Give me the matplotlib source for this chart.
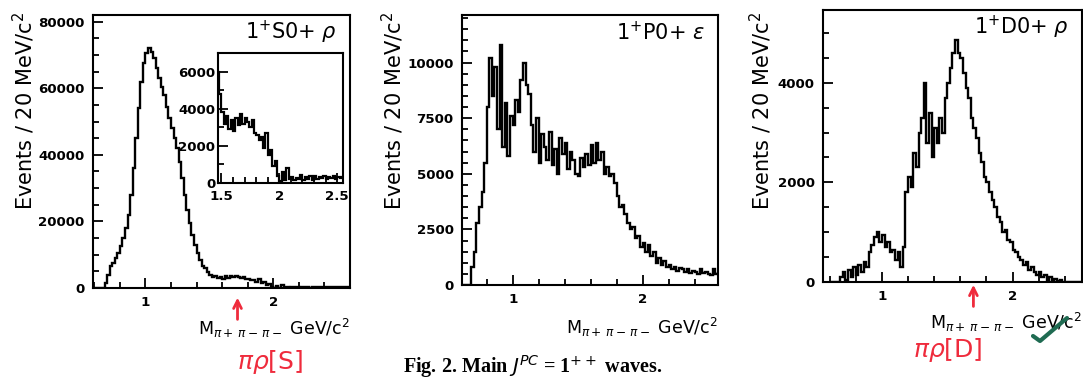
import numpy as np
import matplotlib
matplotlib.use("Agg")
import matplotlib.pyplot as plt
from matplotlib.ticker import MultipleLocator
from matplotlib.lines import Line2D

# ---------------- data (events per 20 MeV bin, bins from 0.60 to 2.60 GeV) ----------------
bin_lo, bin_hi, bin_w = 0.60, 2.60, 0.02

s0_rho = [0, 0, 0, 0, 1500, 4000, 6500, 7500, 9000, 10500,
          12500, 15000, 18000, 22000, 28000, 36000, 45000, 54000, 62000, 67500,
          70500, 72000, 71000, 69000, 66000, 63000, 60500, 58000, 54500, 51000,
          48000, 45000, 42000, 38000, 33000, 28000, 23500, 19500, 16000, 13000,
          10500, 8500, 6500, 6000, 4800, 3800, 3200, 3600, 2900, 3400,
          2800, 3500, 3100, 3700, 3200, 3500, 3300, 3000, 3400, 2700,
          2600, 2300, 2500, 1900, 2700, 1500, 1800, 900, 1200, 400,
          100, 600, 150, 800, 200, 300, 150, 250, 200, 450,
          150, 300, 200, 350, 150, 400, 200, 300, 250, 350,
          200, 300, 250, 400, 200, 300, 250, 300, 200, 250]

p0_eps = [0, 0, 0, 0, 800, 1500, 2800, 3500, 4200, 5500,
          8000, 10200, 8500, 9800, 7000, 10800, 6200, 8200, 5800, 7600,
          7200, 8300, 7800, 9200, 10000, 9000, 8600, 7200, 6000, 7500,
          5500, 6800, 6200, 5600, 6900, 5400, 6100, 5000, 6600, 5900,
          6400, 5200, 6000, 5600, 5000, 4900, 5700, 5300, 5900, 5400,
          6300, 5500, 6400, 5600, 6000, 5000, 5300, 4900, 5000, 4600,
          4000, 3500, 3600, 3200, 2800, 2500, 2600, 2100, 2200, 1700,
          1900, 1500, 1800, 1300, 1500, 1000, 1200, 900, 1100, 800,
          900, 700, 800, 650, 750, 700, 600, 700, 550, 650,
          600, 500, 700, 550, 600, 500, 450, 700, 500, 550]

d0_rho = [0, 0, 0, 0, 100, 200, 50, 250, 100, 300,
          150, 350, 200, 400, 300, 600, 750, 900, 1000, 800,
          950, 700, 800, 600, 650, 450, 600, 300, 700, 1800,
          2100, 1900, 2600, 2300, 3000, 3300, 4000, 2800, 3400, 2500,
          3100, 2800, 3300, 3000, 3700, 4000, 4300, 4600, 4850, 4600,
          4500, 4200, 3900, 3700, 3300, 3100, 2900, 2600, 2400, 2100,
          2000, 1800, 1650, 1500, 1300, 1200, 1000, 1050, 850, 800,
          650, 600, 500, 450, 350, 400, 250, 300, 200, 150,
          200, 100, 150, 50, 100, 40, 60, 20, 40, 0,
          0, 0, 0, 0, 0, 0, 0, 0, 0, 0]

titles = ["1$^{+}$S0+ $\\rho$", "1$^{+}$P0+ $\\varepsilon$", "1$^{+}$D0+ $\\rho$"]
ylabel = "Events / 20 MeV/c$^{2}$"
xlabel = "M$_{\\pi+\\,\\pi-\\,\\pi-}$ GeV/c$^{2}$"
caption = "Fig. 2. Main $J^{PC}$ = 1$^{++}$ waves."

edges = np.round(np.arange(bin_lo, bin_hi + bin_w / 2, bin_w), 2)

plt.rcParams['font.family'] = ['DejaVu Sans']
plt.rcParams['mathtext.fontset'] = 'dejavusans'

fig = plt.figure(figsize=(10.83, 3.83), dpi=100)
ax1 = fig.add_axes([0.0859, 0.248, 0.2373, 0.7128])
ax2 = fig.add_axes([0.4266, 0.2559, 0.2364, 0.705])
ax3 = fig.add_axes([0.760, 0.2637, 0.239, 0.710])
axin = fig.add_axes([0.2013, 0.5222, 0.1154, 0.3394])


def style(ax, lw=1.5, fs=9.6, pad=6, xpad=None):
    for sp in ax.spines.values():
        sp.set_linewidth(lw)
    ax.tick_params(which='both', direction='in', top=False, right=False,
                   width=1.3, labelsize=fs, pad=pad)
    if xpad is not None:
        ax.tick_params(axis='x', which='both', pad=xpad)
    ax.tick_params(which='major', length=7)
    ax.tick_params(which='minor', length=4)
    for lab in ax.get_xticklabels() + ax.get_yticklabels():
        lab.set_fontweight('bold')


panels = [
    (ax1, s0_rho, (0.59, 2.60), (0, 82000), [0, 20000, 40000, 60000, 80000], 5000),
    (ax2, p0_eps, (0.61, 2.58), (0, 12140), [0, 2500, 5000, 7500, 10000], 500),
    (ax3, d0_rho, (0.55, 2.53), (0, 5460), [0, 2000, 4000], 500),
]
for ax, vals, xl, yl, yt, ymin in panels:
    ax.stairs(vals, edges, color='black', lw=1.7)
    ax.set_xlim(*xl)
    ax.set_ylim(*yl)
    ax.set_xticks([1, 2])
    ax.set_xticklabels(['1', '2'])
    ax.xaxis.set_minor_locator(MultipleLocator(0.2))
    ax.set_yticks(yt)
    ax.set_yticklabels([str(v) for v in yt])
    ax.yaxis.set_minor_locator(MultipleLocator(ymin))
    style(ax)

# inset
axin.stairs(s0_rho, edges, color='black', lw=1.6)
axin.set_xlim(1.47, 2.55)
axin.set_ylim(0, 7000)
axin.set_xticks([1.5, 2, 2.5])
axin.set_xticklabels(['1.5', '2', '2.5'])
axin.xaxis.set_minor_locator(MultipleLocator(0.1))
axin.set_yticks([0, 2000, 4000, 6000])
axin.set_yticklabels(['0', '2000', '4000', '6000'])
axin.yaxis.set_minor_locator(MultipleLocator(1000))
style(axin, pad=2, xpad=5)

# titles inside panels
for ax, t in zip([ax1, ax2, ax3], titles):
    ax.text(0.95, 0.935, t, transform=ax.transAxes, ha='right', va='center', fontsize=15)

# y labels
for xpix in [24, 393, 761]:
    fig.text(xpix / 1083, 1 - 12 / 383, ylabel, rotation=90, ha='center', va='top', fontsize=15)

# x labels
for ax, yy in [(ax1, -0.147), (ax2, -0.159), (ax3, -0.147)]:
    ax.text(1.0, yy, xlabel, transform=ax.transAxes, ha='right', va='center', fontsize=12.5,
            clip_on=False)

# caption
fig.text(403 / 1083, 1 - 367 / 383, caption, family='Liberation Serif', fontsize=14.5,
         fontweight='bold', ha='left', va='center')

# handwritten red annotations
red = '#ef2b3c'
for ax, xv, y0, y1 in [(ax1, 1.72, -0.125, -0.025), (ax3, 1.70, -0.10, 0.0)]:
    ax.annotate('', xy=(xv, y1), xytext=(xv, y0), xycoords=('data', 'axes fraction'),
                textcoords=('data', 'axes fraction'),
                arrowprops=dict(arrowstyle='->', color=red, lw=2, mutation_scale=14))
fig.text(270 / 1083, 1 - 362 / 383, "$\\pi\\rho$[S]", color=red, fontsize=18, ha='center',
         va='center')
fig.text(948 / 1083, 1 - 350 / 383, "$\\pi\\rho$[D]", color=red, fontsize=18, ha='center',
         va='center')
fig.add_artist(Line2D([1033 / 1083, 1040 / 1083, 1067 / 1083],
                      [1 - 336 / 383, 1 - 341 / 383, 1 - 318 / 383],
                      color='#1f6b52', lw=3, solid_capstyle='round'))

fig.savefig('out.png', dpi=100)
